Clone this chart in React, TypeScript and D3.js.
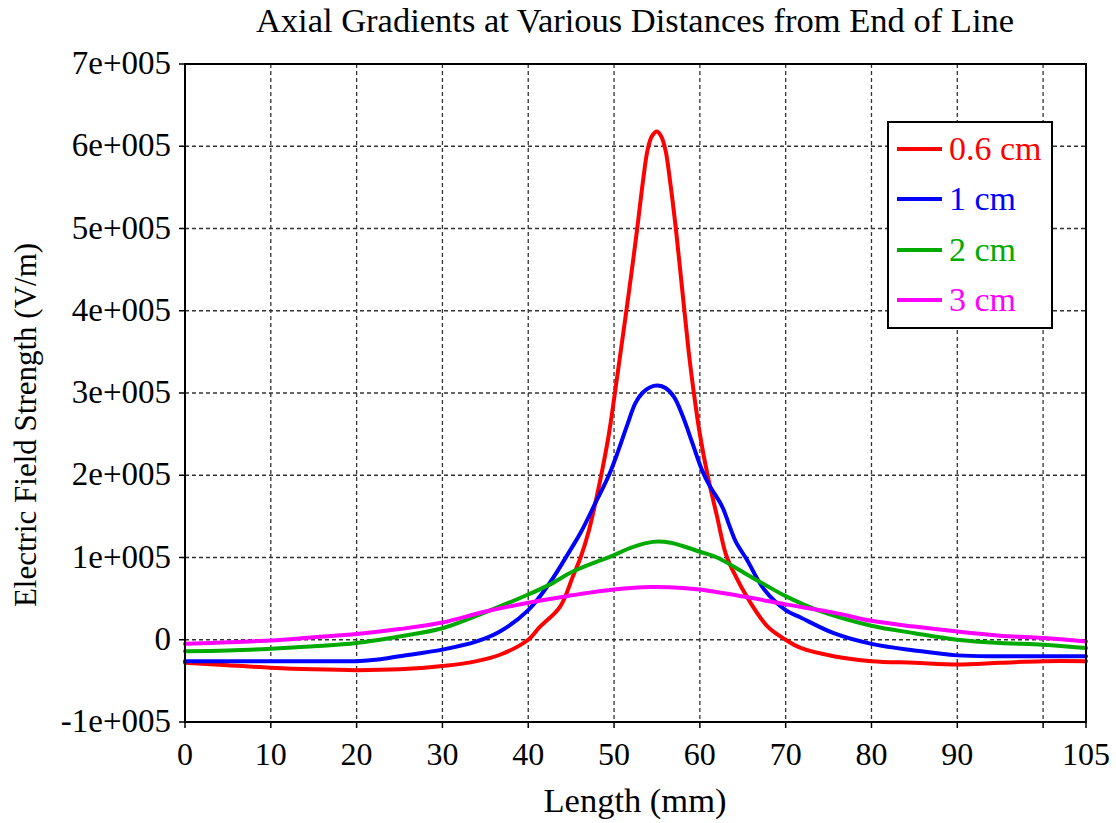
import React from "react";
import * as d3 from "d3";

const title = "Axial Gradients at Various Distances from End of Line";
const xLabel = "Length (mm)";
const yLabel = "Electric Field Strength (V/m)";

const xTicks = [0, 10, 20, 30, 40, 50, 60, 70, 80, 90, 100, 105];
const xTickLabels = ["0", "10", "20", "30", "40", "50", "60", "70", "80", "90", "", "105"];
const yTicks = [-1e5, 0, 1e5, 2e5, 3e5, 4e5, 5e5, 6e5, 7e5];
const yTickLabels = ["-1e+005", "0", "1e+005", "2e+005", "3e+005", "4e+005", "5e+005", "6e+005", "7e+005"];

const seriesNames = ["0.6 cm", "1 cm", "2 cm", "3 cm"];
const seriesColors = ["#ff0000", "#0000ff", "#00aa00", "#ff00ff"];

// values in units of 1e5 V/m, [length mm, value]
const red06: [number, number][] = [
  [0, -0.28], [5, -0.31], [10, -0.34], [15, -0.36], [20, -0.37], [25, -0.36], [30, -0.32],
  [34, -0.26], [37, -0.17], [40, 0.0], [41.3, 0.15], [43.7, 0.4], [45.2, 0.77], [46.1, 1.0],
  [47.0, 1.3], [47.9, 1.7], [48.6, 2.05], [49.4, 2.5], [50.1, 3.0], [50.9, 3.6], [51.7, 4.2],
  [52.7, 5.0], [53.4, 5.6], [53.9, 5.95], [54.4, 6.12], [55.0, 6.18], [55.5, 6.12], [56.0, 5.95],
  [56.5, 5.6], [57.2, 5.0], [58.0, 4.2], [58.7, 3.5], [59.3, 3.0], [60.0, 2.5], [60.9, 2.0],
  [62.0, 1.5], [63.0, 1.05], [63.8, 0.85], [65.9, 0.45], [67.9, 0.16], [70, 0.0], [71.75, -0.1],
  [75.6, -0.2], [80, -0.26], [85, -0.28], [90, -0.3], [95, -0.28], [100, -0.26], [105, -0.26],
];
const blue1: [number, number][] = [
  [0, -0.26], [5, -0.26], [10, -0.26], [15, -0.26], [20, -0.26], [22.5, -0.24], [25, -0.2], [30, -0.12],
  [34, -0.02], [36.7, 0.1], [40, 0.36], [42.5, 0.69], [44.9, 1.09], [46.1, 1.3], [48, 1.7],
  [49.4, 2.0], [50.5, 2.3], [51.5, 2.6], [52.5, 2.88], [53.3, 3.0], [54.2, 3.07], [55.1, 3.09],
  [56.0, 3.06], [57.0, 2.95], [58.0, 2.72], [59.1, 2.4], [60.3, 2.05], [61.1, 1.88],
  [62.6, 1.62], [63.4, 1.4], [64.2, 1.19], [65.5, 0.97], [67.5, 0.61], [70, 0.36], [71.75, 0.27],
  [75.6, 0.08], [80, -0.05], [85, -0.13], [90, -0.19], [95, -0.2], [100, -0.2], [105, -0.2],
];
const green2: [number, number][] = [
  [0, -0.14], [5, -0.13], [10, -0.11], [15, -0.08], [20, -0.04], [25, 0.04], [30, 0.14],
  [34.9, 0.33], [40, 0.55], [42.5, 0.67], [45.2, 0.83], [50, 1.03], [52, 1.12], [54.5, 1.19],
  [56.6, 1.18], [58, 1.14], [60, 1.07], [62, 1.0], [65.9, 0.77], [70, 0.53], [73.7, 0.36],
  [80, 0.17], [85, 0.08], [90, 0.0], [95, -0.04], [100, -0.06], [105, -0.1],
];
const magenta3: [number, number][] = [
  [0, -0.05], [5, -0.03], [10, -0.01], [15, 0.03], [20, 0.07], [25, 0.13], [30, 0.21],
  [34.9, 0.34], [40, 0.45], [44.5, 0.53], [50, 0.61], [54.3, 0.64], [58, 0.63], [60, 0.61],
  [65.9, 0.51], [70, 0.43], [75.6, 0.33], [80, 0.23], [85, 0.16], [90, 0.1], [95, 0.05],
  [100, 0.02], [105, -0.02],
];
const seriesData = [red06, blue1, green2, magenta3];

const W = 1116;
const H = 823;
const M = { left: 185, right: 1086, top: 64, bottom: 722 };
const FONT = "'Liberation Serif', 'Times New Roman', serif";

export default function App() {
  const x = d3.scaleLinear().domain([0, 105]).range([M.left, M.right]);
  const y = d3.scaleLinear().domain([-1e5, 7e5]).range([M.bottom, M.top]);
  const line = d3
    .line<[number, number]>()
    .x((d) => x(d[0]))
    .y((d) => y(d[1] * 1e5))
    .curve(d3.curveCatmullRom.alpha(0.5));

  const gridX = xTicks.filter((t) => t > 0 && t < 105);
  const gridY = yTicks.filter((t) => t > -1e5 && t < 7e5);

  const legendX = 888;
  const legendY = 122;
  const legendW = 164;
  const legendH = 206;
  const rowYs = [149, 199, 250, 300];

  return (
    <svg
      width={W}
      height={H}
      style={{ position: "absolute", left: 0, top: 0, background: "#fff" }}
      fontFamily={FONT}
    >
      <rect x={0} y={0} width={W} height={H} fill="#fff" />
      {gridX.map((t) => (
        <line key={"gx" + t} x1={x(t)} x2={x(t)} y1={M.top} y2={M.bottom}
          stroke="#333" strokeWidth={1.3} strokeDasharray="4,3" />
      ))}
      {gridY.map((t) => (
        <line key={"gy" + t} x1={M.left} x2={M.right} y1={y(t)} y2={y(t)}
          stroke="#333" strokeWidth={1.3} strokeDasharray="4,3" />
      ))}
      {seriesData.map((s, i) => (
        <path key={"s" + i} d={line(s) || ""} fill="none" stroke={seriesColors[i]}
          strokeWidth={4} strokeLinejoin="round" strokeLinecap="round" />
      ))}
      <rect x={M.left} y={M.top} width={M.right - M.left} height={M.bottom - M.top}
        fill="none" stroke="#000" strokeWidth={2} />
      {xTicks.map((t, i) => (
        <g key={"xt" + t}>
          <line x1={x(t)} x2={x(t)} y1={M.bottom} y2={M.bottom + 6} stroke="#000" strokeWidth={1.5} />
          <text x={x(t)} y={765} textAnchor="middle" fontSize={32} fill="#000">{xTickLabels[i]}</text>
        </g>
      ))}
      {yTicks.map((t, i) => (
        <g key={"yt" + t}>
          <line x1={M.left - 6} x2={M.left} y1={y(t)} y2={y(t)} stroke="#000" strokeWidth={1.5} />
          <text x={171} y={y(t) + 10} textAnchor="end" fontSize={33} fill="#000">{yTickLabels[i]}</text>
        </g>
      ))}
      <text x={635} y={32} textAnchor="middle" fontSize={34.5} fill="#000">{title}</text>
      <text x={635} y={812} textAnchor="middle" fontSize={34.5} fill="#000">{xLabel}</text>
      <text transform={`translate(36, 425) rotate(-90)`} textAnchor="middle"
        fontSize={31} fill="#000">{yLabel}</text>
      <rect x={legendX} y={legendY} width={legendW} height={legendH} fill="#fff" stroke="#000" strokeWidth={2} />
      {seriesNames.map((n, i) => (
        <g key={"lg" + i}>
          <line x1={897} x2={942} y1={rowYs[i]} y2={rowYs[i]} stroke={seriesColors[i]} strokeWidth={4} />
          <text x={949} y={rowYs[i] + 11} fontSize={34} fill={seriesColors[i]}>{n}</text>
        </g>
      ))}
    </svg>
  );
}
